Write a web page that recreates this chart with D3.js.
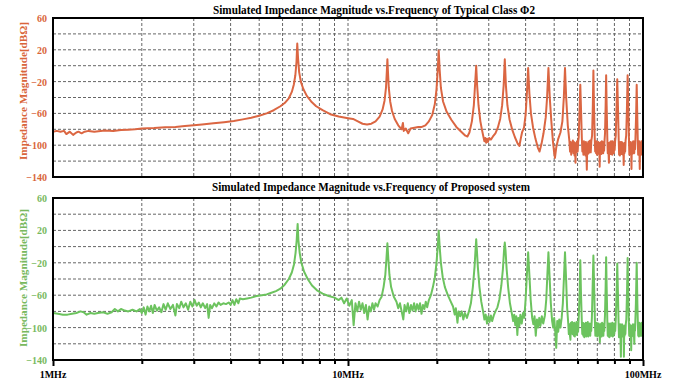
<!DOCTYPE html>
<html>
<head>
<meta charset="utf-8">
<script src="https://cdn.jsdelivr.net/npm/d3@7"></script>
<style>
  body { margin: 0; background: #fff; }
  text { font-family: "Liberation Serif", "Times New Roman", serif; font-weight: bold; }
</style>
</head>
<body>
<div id="chart"></div>
<script>
// titles
const titleTop = "Simulated Impedance Magnitude vs.Frequency of Typical Class  \u03A62";
const titleBottom = "Simulated Impedance Magnitude vs.Frequency of Proposed system";
const yTitle = "Impedance Magnitude[dB\u03A9]";

// ticks
const freqGrid = [2, 3, 4, 5, 6, 7, 8, 9, 20, 30, 40, 50, 60, 70, 80, 90];
const freqMajor = [10, 100];
const freqLabels = [1, 10, 100];
const freqLabelText = ["1MHz", "10MHz", "100MHz"];
const dbGrid = [40, 20, 0, -20, -40, -60, -80, -100, -120];
const dbLabels = [60, 20, -20, -60, -100, -140];

// [MHz, dB] - typical class phi2
const classPhi2 = [
  [1.00,-83],[1.03,-82],[1.06,-83],[1.09,-82],[1.11,-86],[1.14,-83],[1.17,-87],[1.20,-84],[1.22,-83],[1.25,-85],
  [1.28,-83],[1.32,-82],[1.38,-83],[1.45,-82],[1.50,-81.5],[1.60,-82],[1.70,-81],[1.80,-80.5],[1.90,-80],[2.0,-79],
  [2.2,-78.5],[2.4,-77.5],[2.6,-77],[2.8,-76],[3.0,-75],[3.2,-74],[3.5,-72.5],[3.8,-71],[4.1,-69.5],[4.4,-67.5],
  [4.7,-65.5],[5.0,-63],[5.3,-60],[5.6,-56],[5.9,-51],[6.1,-47],[6.3,-41],[6.45,-33],[6.55,-24],[6.63,-12],
  [6.69,5],[6.73,28],[6.77,10],[6.83,-8],[6.92,-20],[7.05,-29],[7.25,-38],[7.5,-45],[7.8,-51],[8.2,-56],
  [8.7,-61],[9.3,-64],[10,-66],[10.4,-67],[10.8,-70],[11.2,-73],[11.6,-74],[12.0,-73],[12.4,-70],[12.8,-64],
  [13.1,-55],[13.3,-44],[13.45,-28],[13.55,-5],[13.6,8],[13.65,-5],[13.75,-28],[13.9,-45],[14.1,-57],[14.4,-67],
  [14.8,-75],[15.2,-80],[15.35,-72],[15.45,-82],[15.7,-79],[16.0,-85],[16.3,-79],[16.8,-78],[17.3,-77],[17.8,-77],
  [18.3,-75],[18.8,-70],[19.3,-62],[19.7,-48],[19.95,-30],[20.15,-5],[20.3,19],[20.45,-5],[20.65,-28],[21.0,-45],
  [21.6,-58],[22.4,-68],[23.3,-77],[24.2,-83],[25.0,-88],[25.4,-89],[25.8,-84],[26.3,-70],[26.7,-50],[26.95,-25],
  [27.2,0],[27.4,-25],[27.7,-50],[28.1,-70],[28.5,-82],[28.8,-90],[29.0,-95],[29.2,-91],[29.4,-97],[29.6,-92],
  [29.8,-96],[30.1,-91],[30.5,-93],[31.0,-89],[31.6,-85],[32.2,-78],[32.8,-67],[33.3,-50],[33.7,-25],[34.0,8],
  [34.3,-25],[34.7,-50],[35.3,-68],[36.0,-80],[36.8,-90],[37.6,-98],[38.1,-101],[38.5,-92],[38.9,-84],[39.5,-78],
  [40.0,-62],[40.4,-35],[40.8,-3],[41.2,-35],[41.7,-60],[42.4,-78],[43.2,-92],[44.0,-103],[44.6,-108],[45.3,-98],
  [46.0,-85],[46.8,-65],[47.3,-40],[47.8,-3],[48.3,-40],[48.9,-70],[49.5,-95],[50.0,-110],[50.3,-116],[50.8,-103],
  [51.6,-92],[52.5,-84],[53.3,-70],[53.9,-40],[54.4,-3],[54.9,-40],[55.6,-75],
  [56.3,-95],[56.6,-108],[56.85,-96],[57.1,-112],[57.35,-97],[57.6,-106],[57.85,-94],[58.1,-110],[58.35,-96],[58.6,-113],
  [58.85,-99],[59.05,-122],[59.3,-97],[59.55,-109],[59.8,-95],[60.05,-108],[60.3,-96],[60.55,-90],[60.9,-60],[61.3,-24],
  [61.7,-60],[62.05,-92],[62.3,-108],[62.55,-96],[62.8,-112],[63.05,-95],[63.3,-110],[63.55,-97],[63.8,-113],[64.05,-96],
  [64.3,-110],[64.5,-131],[64.75,-98],[65.0,-111],[65.25,-96],[65.5,-110],[65.75,-95],[66.0,-108],[66.25,-94],[66.5,-109],
  [66.8,-95],[67.2,-88],[67.6,-50],[67.9,-6],[68.2,-50],[68.6,-90],[68.85,-108],[69.1,-96],[69.35,-110],[69.6,-95],
  [69.85,-112],[70.1,-97],[70.35,-109],[70.6,-96],[70.85,-111],[71.1,-98],[71.3,-127],[71.55,-97],[71.8,-110],[72.05,-96],
  [72.3,-111],[72.55,-95],[72.8,-108],[73.05,-96],[73.3,-110],[73.55,-97],[73.8,-107],[74.05,-95],[74.35,-85],[74.7,-50],
  [75.0,-12],[75.3,-50],[75.7,-92],[75.95,-110],[76.2,-97],[76.45,-112],[76.65,-122],[76.9,-97],[77.15,-110],[77.4,-96],
  [77.65,-111],[77.9,-95],[78.15,-110],[78.4,-96],[78.65,-112],[78.9,-95],[79.15,-109],[79.4,-96],[79.65,-110],[79.9,-97],
  [80.15,-106],[80.45,-95],[80.85,-88],[81.3,-55],[81.8,-17],[82.3,-55],[82.75,-95],[83.0,-112],[83.25,-97],[83.5,-113],
  [83.75,-96],[84.0,-110],[84.25,-97],[84.5,-111],[84.75,-96],[85.0,-110],[85.25,-97],[85.5,-112],[85.75,-98],[86.0,-125],
  [86.25,-98],[86.5,-110],[86.75,-97],[87.0,-108],[87.3,-94],[87.7,-88],[88.2,-55],[88.7,-12],[89.2,-55],[89.65,-96],
  [89.9,-112],[90.15,-97],[90.4,-111],[90.65,-96],[90.9,-110],[91.15,-98],[91.4,-130],[91.65,-98],[91.9,-111],[92.15,-96],
  [92.4,-110],[92.65,-95],[92.9,-109],[93.15,-96],[93.4,-110],[93.7,-95],[94.0,-105],[94.3,-90],[94.8,-60],[95.2,-24],
  [95.6,-60],[96.05,-98],[96.3,-112],[96.55,-96],[96.8,-110],[97.05,-95],[97.3,-111],[97.5,-130],[97.75,-100],[98.0,-112],
  [98.25,-97],[98.5,-112],[98.75,-95],[99.0,-110],[99.25,-96],[99.5,-111],[99.75,-97],[100,-105]
];

// [MHz, dB] - proposed system
const proposed = [
  [1.00,-82],[1.04,-83],[1.08,-84],[1.12,-84],[1.16,-83],[1.20,-82],[1.24,-80],[1.27,-81],[1.30,-84],[1.34,-82],
  [1.38,-83],[1.42,-82],[1.48,-81],[1.53,-83],[1.58,-81],[1.62,-77],[1.66,-80],[1.70,-77],[1.75,-79],[1.80,-80],
  [1.86,-78],[1.92,-80],[1.97,-77],[2.00,-82],[2.03,-75],[2.06,-84],[2.09,-74],[2.12,-80],[2.15,-73],[2.18,-82],
  [2.21,-72],[2.25,-79],[2.29,-75],[2.33,-81],[2.37,-71],[2.41,-78],[2.45,-70],[2.50,-77],[2.55,-72],[2.60,-85],
  [2.63,-71],[2.68,-76],[2.72,-68],[2.77,-75],[2.82,-70],[2.87,-78],[2.92,-68],[2.97,-74],[3.02,-66],[3.07,-73],
  [3.12,-69],[3.17,-75],[3.22,-70],[3.28,-76],[3.33,-71],[3.37,-88],[3.41,-72],[3.46,-76],[3.52,-70],[3.58,-74],
  [3.64,-69],[3.70,-72],[3.78,-70],[3.86,-71],[3.94,-69],[4.00,-72],[4.06,-66],[4.12,-72],[4.18,-65],[4.25,-70],
  [4.30,-64],[4.40,-65],[4.55,-64],[4.70,-63],[4.90,-61],[5.10,-60],[5.30,-59],[5.50,-57],[5.70,-55],[5.90,-52],
  [6.10,-47],[6.30,-40],[6.45,-32],[6.56,-22],[6.64,-8],[6.70,8],[6.75,28],[6.79,8],[6.86,-8],[6.95,-20],
  [7.10,-31],[7.30,-40],[7.55,-48],[7.85,-54],[8.20,-58],[8.60,-61],[9.00,-63],[9.30,-66],[9.50,-63],[9.70,-70],
  [9.90,-64],[10.1,-73],[10.3,-66],[10.45,-97],[10.6,-70],[10.75,-80],[10.9,-68],[11.05,-78],[11.2,-70],[11.35,-82],
  [11.5,-72],[11.65,-90],[11.8,-74],[11.95,-80],[12.1,-70],[12.25,-78],[12.4,-70],[12.6,-74],[12.8,-66],[13.0,-62],
  [13.2,-50],[13.38,-35],[13.5,-15],[13.6,4],[13.7,-15],[13.82,-35],[14.0,-50],[14.3,-62],[14.6,-68],[14.8,-76],
  [15.0,-70],[15.2,-80],[15.4,-90],[15.55,-72],[15.75,-80],[15.95,-70],[16.15,-82],[16.35,-72],[16.55,-79],[16.75,-70],
  [16.95,-80],[17.15,-71],[17.35,-78],[17.55,-70],[17.75,-83],[17.95,-72],[18.15,-77],[18.35,-68],[18.55,-75],[18.8,-66],
  [19.1,-60],[19.4,-50],[19.7,-38],[19.95,-20],[20.15,0],[20.3,19.5],[20.45,0],[20.65,-20],[20.95,-38],[21.3,-50],
  [21.8,-60],[22.3,-68],[22.7,-74],[23.0,-84],[23.2,-76],[23.5,-94],[23.7,-80],[24.0,-86],[24.3,-80],[24.6,-90],
  [24.9,-82],[25.3,-88],[25.7,-80],[26.1,-70],[26.5,-50],[26.85,-25],[27.05,-5],[27.2,9],[27.35,-5],[27.55,-25],
  [27.9,-50],[28.3,-68],[28.7,-80],[29.0,-90],[29.3,-84],[29.6,-95],[29.9,-86],[30.2,-93],[30.5,-85],[30.8,-92],
  [31.2,-85],[31.6,-80],[32.1,-75],[32.6,-65],[33.1,-48],[33.5,-28],[33.8,-5],[34.0,5],[34.2,-5],[34.5,-28],
  [34.9,-50],[35.4,-70],[35.9,-82],[36.3,-92],[36.6,-84],[36.9,-97],[37.2,-86],[37.5,-109],[37.8,-88],[38.1,-98],
  [38.4,-84],[38.8,-95],[39.2,-82],[39.6,-88],[40.0,-65],[40.4,-35],[40.8,-7],[41.2,-35],[41.6,-65],[42.1,-88],
  [42.5,-96],[42.9,-86],[43.3,-110],[43.7,-90],[44.1,-100],[44.5,-88],[44.9,-98],[45.4,-86],[45.9,-95],[46.5,-85],
  [47.0,-65],[47.4,-35],[47.8,-7],[48.2,-35],[48.7,-70],[49.2,-92],[49.6,-100],[50.0,-88],[50.4,-104],[50.8,-125],
  [51.2,-92],[51.6,-105],[52.0,-90],[52.5,-100],[53.0,-88],[53.5,-70],[54.0,-35],[54.4,-7],[54.8,-35],[55.3,-75],
  [55.8,-95],[56.05,-108],[56.3,-96],[56.55,-110],[56.75,-115],[57.0,-94],[57.25,-107],[57.5,-93],[57.75,-108],[58.0,-95],
  [58.25,-110],[58.5,-94],[58.75,-111],[59.0,-96],[59.25,-108],[59.5,-93],[59.75,-109],[60.0,-94],[60.25,-105],[60.6,-85],
  [61.0,-55],[61.3,-17],[61.6,-55],[62.0,-90],[62.25,-108],[62.5,-94],[62.75,-110],[63.0,-95],[63.25,-112],[63.5,-96],
  [63.75,-109],[64.0,-94],[64.25,-111],[64.5,-95],[64.75,-108],[65.0,-93],[65.25,-111],[65.5,-96],[65.75,-108],[66.0,-95],
  [66.25,-110],[66.5,-96],[66.75,-104],[67.1,-88],[67.5,-50],[67.9,-11],[68.3,-50],[68.7,-92],[68.95,-110],[69.2,-95],
  [69.45,-109],[69.7,-94],[69.95,-111],[70.2,-96],[70.45,-108],[70.7,-95],[70.95,-110],[71.2,-97],[71.4,-118],[71.65,-96],
  [71.9,-110],[72.15,-95],[72.4,-111],[72.65,-94],[72.9,-108],[73.15,-96],[73.4,-110],[73.65,-95],[73.9,-104],[74.3,-86],
  [74.7,-50],[75.0,-13],[75.3,-50],[75.7,-92],[75.95,-110],[76.2,-96],[76.45,-111],[76.7,-95],[76.95,-112],[77.2,-96],
  [77.45,-109],[77.7,-95],[77.95,-110],[78.2,-96],[78.45,-108],[78.7,-94],[78.95,-111],[79.2,-96],[79.45,-110],[79.7,-95],
  [79.95,-108],[80.2,-96],[80.5,-104],[80.9,-88],[81.4,-55],[81.8,-21],[82.2,-55],[82.65,-94],[82.9,-112],[83.15,-97],
  [83.4,-110],[83.65,-96],[83.9,-112],[84.15,-136],[84.4,-100],[84.65,-110],[84.9,-96],[85.15,-111],[85.4,-97],[85.65,-110],
  [85.9,-100],[86.15,-136],[86.4,-98],[86.65,-110],[86.9,-97],[87.15,-108],[87.45,-95],[87.8,-90],[88.3,-55],[88.7,-14],
  [89.1,-55],[89.55,-95],[89.8,-110],[90.05,-96],[90.3,-111],[90.55,-97],[90.8,-110],[91.0,-99],[91.2,-128],[91.45,-99],
  [91.7,-111],[91.95,-97],[92.2,-110],[92.45,-96],[92.7,-109],[92.95,-97],[93.2,-110],[93.45,-120],[93.7,-96],[93.95,-104],
  [94.2,-92],[94.6,-70],[95.2,-20],[95.7,-70],[96.1,-97],[96.35,-110],[96.6,-95],[96.85,-111],[97.1,-94],[97.35,-109],
  [97.6,-96],[97.85,-110],[98.1,-95],[98.35,-108],[98.6,-96],[98.85,-110],[99.1,-94],[99.35,-108],[99.6,-96],[99.85,-107],
  [100,-100]
];

const width = 684, height = 386;

let x = d3.scaleLog().domain([1, 100]).range([53, 643]);

let svg = d3.select("#chart")
  .append("svg")
  .attr("width", width)
  .attr("height", height);

const panels = [
  { title: titleTop, data: classPhi2, color: "#DB6642", labelColor: "#D9653B",
    top: 18, bottom: 177, titleX: 374, titleY: 14, titleW: 322, yTitleY: 91, axis: false },
  { title: titleBottom, data: proposed, color: "#6CC35E", labelColor: "#78B95E",
    top: 198, bottom: 360, titleX: 371, titleY: 191, titleW: 318, yTitleY: 278, axis: true }
];

panels.forEach((p, i) => drawPanel(p, i));

function drawPanel(p, i) {
  let y = d3.scaleLinear().domain([-140, 60]).range([p.bottom, p.top]);
  let g = svg.append("g");

  // dotted grid
  g.selectAll(".hgrid").data(dbGrid).enter()
    .append("line")
    .attr("x1", x(1)).attr("x2", x(100))
    .attr("y1", d => y(d)).attr("y2", d => y(d))
    .attr("stroke", "#666").attr("stroke-width", 1)
    .attr("stroke-dasharray", "3,2");

  g.selectAll(".vgrid").data(freqGrid.concat([10])).enter()
    .append("line")
    .attr("x1", d => x(d)).attr("x2", d => x(d))
    .attr("y1", p.top).attr("y2", p.bottom)
    .attr("stroke", "#666").attr("stroke-width", 1)
    .attr("stroke-dasharray", "3,2");

  svg.append("clipPath").attr("id", "clip" + i)
    .append("rect")
    .attr("x", x(1)).attr("y", p.top)
    .attr("width", x(100) - x(1)).attr("height", p.bottom - p.top);

  let line = d3.line().x(d => x(d[0])).y(d => y(d[1]));

  g.append("path")
    .datum(p.data)
    .attr("clip-path", "url(#clip" + i + ")")
    .attr("fill", "none")
    .attr("stroke", p.color)
    .attr("stroke-width", 2)
    .attr("stroke-linejoin", "round")
    .attr("d", line);

  // frame
  g.append("rect")
    .attr("x", x(1)).attr("y", p.top)
    .attr("width", x(100) - x(1)).attr("height", p.bottom - p.top)
    .attr("fill", "none").attr("stroke", "#000").attr("stroke-width", 2);

  // y tick labels
  let ya = g.append("g")
    .attr("transform", "translate(" + x(1) + ",0)")
    .call(d3.axisLeft(y).tickValues(dbLabels).tickSize(0).tickPadding(6));
  ya.select(".domain").remove();
  ya.attr("font-size", 10).attr("font-family", null);
  ya.selectAll("text").attr("fill", p.labelColor).attr("dy", "0.35em");

  // y title
  g.append("text")
    .attr("transform", "translate(23," + p.yTitleY + ") rotate(-90)")
    .attr("text-anchor", "middle")
    .attr("dy", "0.35em")
    .attr("font-size", 11)
    .attr("textLength", 138)
    .attr("lengthAdjust", "spacingAndGlyphs")
    .attr("fill", p.labelColor)
    .text(yTitle);

  // panel title
  g.append("text")
    .attr("x", p.titleX).attr("y", p.titleY)
    .attr("text-anchor", "middle")
    .attr("font-size", 11.5)
    .attr("textLength", p.titleW)
    .attr("lengthAdjust", "spacingAndGlyphs")
    .attr("fill", "#000")
    .text(p.title);

  if (!p.axis) return;

  // frequency axis under the lower panel
  g.append("g")
    .attr("transform", "translate(0," + p.bottom + ")")
    .call(d3.axisBottom(x).tickValues(freqGrid).tickSize(4).tickFormat(""))
    .call(a => a.select(".domain").remove())
    .selectAll("line").attr("stroke", "#000").attr("stroke-width", 2);

  g.append("g")
    .attr("transform", "translate(0," + p.bottom + ")")
    .call(d3.axisBottom(x).tickValues(freqMajor.concat([1])).tickSize(6).tickFormat(""))
    .call(a => a.select(".domain").remove())
    .selectAll("line").attr("stroke", "#000").attr("stroke-width", 2);

  g.selectAll(".flabel").data(freqLabels).enter()
    .append("text")
    .attr("x", d => x(d))
    .attr("y", 378)
    .attr("text-anchor", "middle")
    .attr("font-size", 10)
    .attr("fill", "#000")
    .text((d, j) => freqLabelText[j]);
}
</script>
</body>
</html>
